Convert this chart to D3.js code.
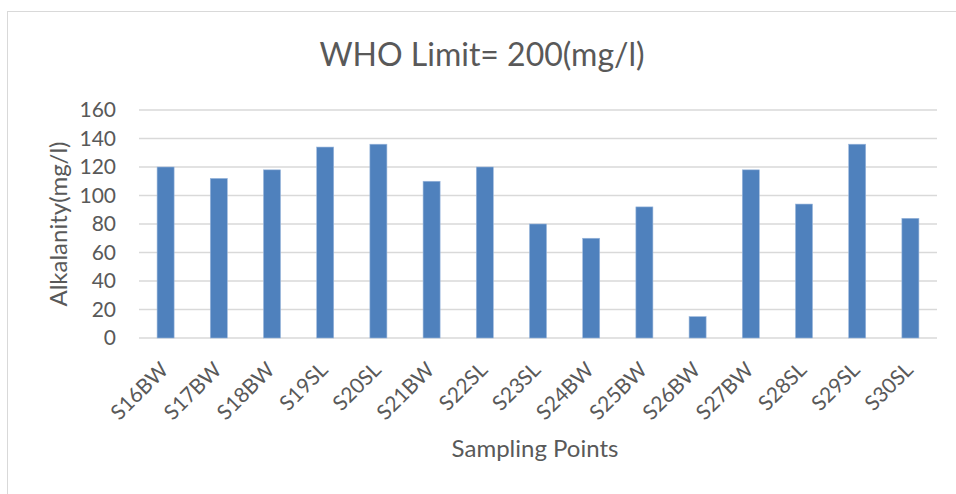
<!DOCTYPE html>
<html>
<head>
<meta charset="utf-8">
<script src="https://cdn.jsdelivr.net/npm/d3@7"></script>
<style>
  body { margin: 0; background: #fff; }
  svg text { font-family: Lato, "Open Sans", sans-serif; fill: #595959; }
</style>
</head>
<body>
<div id="graph"></div>
<script>
var categories = ["S16BW", "S17BW", "S18BW", "S19SL", "S20SL", "S21BW", "S22SL", "S23SL",
                  "S24BW", "S25BW", "S26BW", "S27BW", "S28SL", "S29SL", "S30SL"];
var alkalinity = [120, 112, 118, 134, 136, 110, 120, 80, 70, 92, 15, 118, 94, 136, 84];
var yTicks = [0, 20, 40, 60, 80, 100, 120, 140, 160];

var margin = {top: 110, right: 19, bottom: 156, left: 139},
    width = 956 - margin.left - margin.right,
    height = 494 - margin.top - margin.bottom;

var svg = d3.select('#graph').append("svg")
    .attr("width", 956)
    .attr("height", 494);

// chart frame
svg.append("rect")
    .attr("x", 7.5).attr("y", 11.5)
    .attr("width", 960).attr("height", 500)
    .attr("fill", "none")
    .attr("stroke", "#d9d9d9");

var g = svg.append("g")
    .attr("transform", "translate(" + margin.left + "," + margin.top + ")");

var x = d3.scaleBand()
    .domain(categories)
    .range([0, width])
    .paddingInner(0.68)
    .paddingOuter(0.34);

var y = d3.scaleLinear()
    .domain([0, 160])
    .range([height, 0]);

// gridlines
g.append("g")
  .selectAll("line")
  .data(yTicks)
  .enter().append("line")
    .attr("x1", 0).attr("x2", width)
    .attr("y1", function(d) { return y(d); })
    .attr("y2", function(d) { return y(d); })
    .attr("stroke", "#d9d9d9")
    .attr("stroke-width", 1.5);

// y axis labels
var yAxis = g.append("g")
    .call(d3.axisLeft(y).tickValues(yTicks).tickSize(0).tickPadding(23));
yAxis.select(".domain").remove();
yAxis.selectAll("text")
    .attr("font-size", 21)
    .attr("fill", "#595959")
    .style("font-family", "Lato, 'Open Sans', sans-serif");

// bars
g.selectAll(".bar")
    .data(alkalinity)
  .enter().append("rect")
    .attr("class", "bar")
    .attr("x", function(d, i) { return x(categories[i]); })
    .attr("y", function(d) { return y(d); })
    .attr("width", x.bandwidth())
    .attr("height", function(d) { return height - y(d); })
    .attr("fill", "#4f81bd")
    .attr("stroke", "#9bb7dc")
    .attr("stroke-width", 0.6);

// x axis labels
var xAxis = g.append("g")
    .attr("transform", "translate(0," + height + ")")
    .call(d3.axisBottom(x).tickSize(0).tickPadding(0));
xAxis.select(".domain").remove();
xAxis.selectAll("text")
    .attr("font-size", 21)
    .attr("fill", "#595959")
    .style("font-family", "Lato, 'Open Sans', sans-serif")
    .attr("text-anchor", "end")
    .attr("dy", 0)
    .attr("transform", "translate(4,33) rotate(-45)");

// title
svg.append("text")
    .attr("x", 482)
    .attr("y", 66)
    .attr("text-anchor", "middle")
    .attr("font-size", 32)
    .text("WHO Limit= 200(mg/l)");

// axis titles
svg.append("text")
    .attr("transform", "translate(67," + (margin.top + height / 2) + ") rotate(-90)")
    .attr("text-anchor", "middle")
    .attr("font-size", 24)
    .text("Alkalanity(mg/l)");

svg.append("text")
    .attr("x", 535)
    .attr("y", 457)
    .attr("text-anchor", "middle")
    .attr("font-size", 24)
    .text("Sampling Points");
</script>
</body>
</html>
